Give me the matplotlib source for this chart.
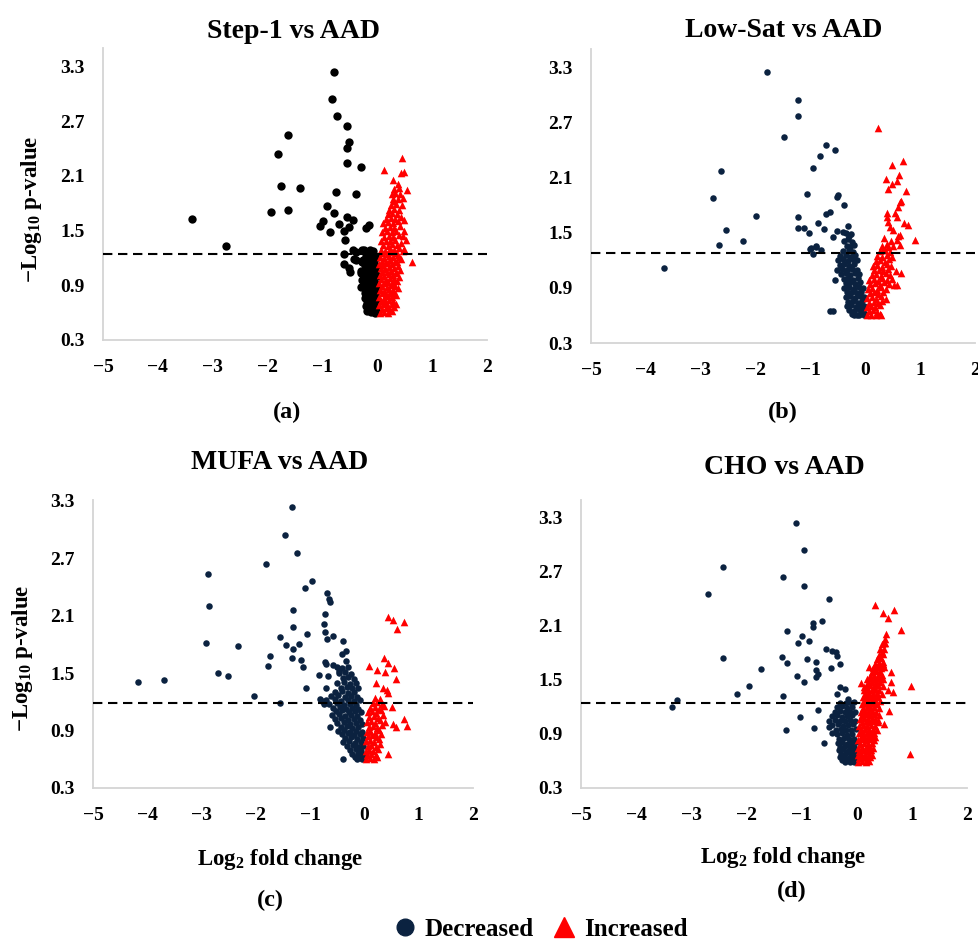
import numpy as np
import matplotlib
matplotlib.use("Agg")
import matplotlib.pyplot as plt
from matplotlib.lines import Line2D

plt.rcParams['font.family'] = ['Liberation Serif', 'DejaVu Serif']
plt.rcParams['font.weight'] = 'bold'
plt.rcParams['mathtext.fontset'] = 'custom'
plt.rcParams['mathtext.rm'] = 'Liberation Serif:bold'
plt.rcParams['mathtext.bf'] = 'Liberation Serif:bold'

NAVY = '#0b2240'
RED = '#ff0000'
BLACK = '#000000'

# ---------------------------------------------------------------- data
# each entry: (log2 fold change, -log10 p-value)
titles = ['Step-1 vs AAD', 'Low-Sat vs AAD', 'MUFA vs AAD', 'CHO vs AAD']
tags = ['(a)', '(b)', '(c)', '(d)']
thresholds = [1.24, 1.28, 1.19, 1.25]
x_ticks = [-5, -4, -3, -2, -1, 0, 1, 2]
x_tick_labels = ['\u22125', '\u22124', '\u22123', '\u22122', '\u22121', '0', '1', '2']
y_ticks = [0.3, 0.9, 1.5, 2.1, 2.7, 3.3]
y_tick_labels = ['0.3', '0.9', '1.5', '2.1', '2.7', '3.3']

step1_dec = [
    (-0.78, 3.24), (-0.83, 2.94), (-0.74, 2.76), (-0.55, 2.64), (-0.52, 2.47), (-0.56, 2.40),
    (-0.55, 2.24), (-0.30, 2.20), (-1.63, 2.55), (-1.81, 2.34), (-1.76, 1.99), (-1.40, 1.97),
    (-1.93, 1.70), (-1.63, 1.72), (-3.37, 1.63), (-2.76, 1.33), (-0.75, 1.92), (-0.39, 1.90),
    (-0.91, 1.77), (-0.78, 1.69), (-0.55, 1.65), (-0.45, 1.62), (-0.99, 1.60), (-1.05, 1.55),
    (-0.69, 1.57), (-0.52, 1.54), (-0.86, 1.48), (-0.61, 1.49), (-0.21, 1.53), (-0.15, 1.56),
    (-0.59, 1.40), (-0.60, 1.24), (-0.60, 1.13), (-0.49, 1.04), (-0.52, 1.09), (-0.45, 1.29),
    (-0.39, 1.26), (-0.38, 1.18), (-0.42, 1.19), (-0.27, 1.29), (-0.30, 1.03), (-0.30, 0.88),
    (-0.27, 1.16),
    (-0.05, 0.60), (-0.12, 0.61), (-0.18, 0.62), (-0.02, 0.63), (-0.09, 0.64), (-0.15, 0.66),
    (-0.21, 0.67), (-0.04, 0.68), (-0.11, 0.70), (-0.19, 0.71), (-0.01, 0.72), (-0.07, 0.74),
    (-0.14, 0.75), (-0.23, 0.76), (-0.03, 0.78), (-0.10, 0.79), (-0.17, 0.80), (-0.22, 0.82),
    (-0.06, 0.83), (-0.13, 0.84), (-0.02, 0.86), (-0.19, 0.87), (-0.09, 0.88), (-0.25, 0.89),
    (-0.15, 0.90), (-0.04, 0.92), (-0.21, 0.93), (-0.11, 0.94), (-0.27, 0.96), (-0.07, 0.97),
    (-0.17, 0.98), (-0.01, 1.00), (-0.24, 1.01), (-0.13, 1.02), (-0.05, 1.04), (-0.20, 1.05),
    (-0.29, 1.06), (-0.09, 1.08), (-0.16, 1.09), (-0.03, 1.11), (-0.23, 1.12), (-0.12, 1.13),
    (-0.19, 1.16), (-0.06, 1.17), (-0.26, 1.18), (-0.14, 1.20), (-0.02, 1.21), (-0.21, 1.22),
    (-0.10, 1.24), (-0.17, 1.26), (-0.07, 1.28), (-0.13, 1.29), (-0.24, 1.29),
]

step1_inc = [
    (0.45, 2.29), (0.13, 2.16), (0.43, 2.13), (0.48, 2.14), (0.28, 2.05), (0.37, 2.01),
    (0.55, 1.94), (0.46, 1.86), (0.31, 1.82), (0.49, 1.61), (0.49, 1.50), (0.52, 1.40),
    (0.49, 1.30), (0.64, 1.16), (0.40, 1.21), (0.37, 1.11), (0.35, 1.03),
    (0.05, 0.60), (0.12, 0.61), (0.20, 0.60), (0.27, 0.62), (0.08, 0.64), (0.16, 0.65),
    (0.23, 0.63), (0.31, 0.66), (0.03, 0.68), (0.11, 0.69), (0.19, 0.67), (0.26, 0.70),
    (0.34, 0.69), (0.06, 0.73), (0.14, 0.72), (0.22, 0.74), (0.29, 0.73), (0.04, 0.77),
    (0.12, 0.76), (0.20, 0.78), (0.27, 0.77), (0.35, 0.79), (0.08, 0.81), (0.16, 0.80),
    (0.24, 0.82), (0.31, 0.81), (0.05, 0.85), (0.13, 0.84), (0.21, 0.86), (0.29, 0.85),
    (0.37, 0.87), (0.09, 0.89), (0.17, 0.88), (0.25, 0.90), (0.33, 0.89), (0.04, 0.93),
    (0.12, 0.92), (0.20, 0.94), (0.28, 0.93), (0.36, 0.95), (0.07, 0.97), (0.15, 0.96),
    (0.23, 0.98), (0.31, 0.97), (0.39, 0.99), (0.05, 1.01), (0.13, 1.00), (0.21, 1.02),
    (0.29, 1.01), (0.09, 1.05), (0.17, 1.04), (0.25, 1.06), (0.34, 1.05), (0.41, 1.07),
    (0.06, 1.09), (0.14, 1.08), (0.22, 1.10), (0.30, 1.09), (0.04, 1.13), (0.11, 1.12),
    (0.19, 1.14), (0.27, 1.13), (0.36, 1.15), (0.08, 1.17), (0.16, 1.16), (0.24, 1.18),
    (0.32, 1.17), (0.43, 1.19), (0.05, 1.21), (0.13, 1.20), (0.21, 1.22), (0.29, 1.21),
    (0.38, 1.23), (0.09, 1.25), (0.18, 1.24), (0.26, 1.26), (0.34, 1.25), (0.47, 1.27),
    (0.06, 1.29), (0.14, 1.28), (0.23, 1.30), (0.31, 1.29), (0.40, 1.31), (0.10, 1.34),
    (0.19, 1.33), (0.27, 1.35), (0.36, 1.34), (0.44, 1.36), (0.07, 1.38), (0.16, 1.39),
    (0.24, 1.38), (0.33, 1.40), (0.12, 1.43), (0.21, 1.44), (0.29, 1.43), (0.39, 1.45),
    (0.46, 1.44), (0.09, 1.48), (0.18, 1.49), (0.27, 1.48), (0.35, 1.50), (0.14, 1.53),
    (0.23, 1.54), (0.31, 1.53), (0.41, 1.55), (0.11, 1.58), (0.20, 1.59), (0.29, 1.58),
    (0.37, 1.60), (0.16, 1.63), (0.25, 1.64), (0.33, 1.63), (0.44, 1.65), (0.19, 1.68),
    (0.27, 1.69), (0.36, 1.68), (0.22, 1.73), (0.30, 1.74), (0.40, 1.73), (0.25, 1.78),
    (0.34, 1.79), (0.45, 1.78), (0.28, 1.84), (0.38, 1.85), (0.26, 1.90), (0.33, 1.91),
    (0.42, 1.90), (0.30, 1.96), (0.39, 1.97),
]

lowsat_dec = [
    (-1.80, 3.25), (-1.22, 2.94), (-1.23, 2.77), (-1.49, 2.54), (-2.63, 2.17), (-2.77, 1.88),
    (-2.00, 1.68), (-2.54, 1.53), (-2.67, 1.37), (-2.23, 1.41), (-3.67, 1.12), (-1.23, 1.67),
    (-1.23, 1.55), (-1.11, 1.55), (-1.07, 1.92), (-0.55, 2.40), (-0.72, 2.46), (-0.83, 2.34),
    (-0.96, 2.20), (-0.52, 1.89), (-0.50, 1.91), (-0.39, 1.80), (-0.64, 1.73), (-0.72, 1.70),
    (-0.86, 1.61), (-0.75, 1.54), (-1.02, 1.50), (-0.58, 1.45), (-0.52, 1.52), (-0.31, 1.57),
    (-0.40, 1.51), (-0.90, 1.36), (-1.01, 1.32), (-0.96, 1.27), (-0.81, 1.31), (-0.89, 1.35),
    (-0.99, 1.33), (-0.56, 0.99), (-0.64, 0.65), (-0.59, 0.65),
    (-0.35, 1.50), (-0.30, 1.47), (-0.26, 1.49), (-0.38, 1.41), (-0.31, 1.43), (-0.24, 1.40),
    (-0.34, 1.36), (-0.27, 1.34), (-0.21, 1.37), (-0.40, 1.30), (-0.30, 1.31), (-0.22, 1.29),
    (-0.46, 1.25), (-0.36, 1.26), (-0.27, 1.24), (-0.19, 1.26), (-0.50, 1.20), (-0.41, 1.21),
    (-0.32, 1.19), (-0.23, 1.21), (-0.16, 1.20), (-0.47, 1.15), (-0.38, 1.16), (-0.29, 1.14),
    (-0.20, 1.16), (-0.51, 1.10), (-0.42, 1.11), (-0.33, 1.09), (-0.25, 1.11), (-0.15, 1.10),
    (-0.44, 1.05), (-0.36, 1.06), (-0.28, 1.04), (-0.19, 1.06), (-0.11, 1.05), (-0.39, 1.00),
    (-0.31, 1.01), (-0.22, 0.99), (-0.13, 1.01), (-0.35, 0.95), (-0.27, 0.96), (-0.18, 0.94),
    (-0.09, 0.96), (-0.38, 0.90), (-0.30, 0.91), (-0.21, 0.89), (-0.12, 0.91), (-0.05, 0.90),
    (-0.33, 0.85), (-0.25, 0.86), (-0.16, 0.84), (-0.07, 0.86), (-0.36, 0.80), (-0.28, 0.81),
    (-0.19, 0.79), (-0.10, 0.81), (-0.03, 0.80), (-0.31, 0.75), (-0.23, 0.76), (-0.14, 0.74),
    (-0.06, 0.76), (-0.34, 0.70), (-0.26, 0.71), (-0.17, 0.69), (-0.08, 0.71), (-0.02, 0.70),
    (-0.29, 0.66), (-0.21, 0.65), (-0.12, 0.67), (-0.04, 0.66), (-0.25, 0.62), (-0.16, 0.61),
    (-0.08, 0.63), (-0.01, 0.62), (-0.20, 0.60), (-0.11, 0.60), (-0.03, 0.60),
]

lowsat_inc = [
    (0.23, 2.64), (0.48, 2.24), (0.68, 2.28), (0.38, 2.09), (0.62, 2.13), (0.58, 2.06),
    (0.42, 1.98), (0.49, 2.03), (0.75, 1.95), (0.63, 1.83), (0.60, 1.78), (0.54, 1.72),
    (0.57, 1.67), (0.39, 1.67), (0.42, 1.62), (0.45, 1.56), (0.51, 1.53), (0.60, 1.47),
    (0.57, 1.42), (0.51, 1.36), (0.39, 1.38), (0.33, 1.31), (0.70, 1.61), (0.78, 1.58),
    (0.91, 1.42), (0.64, 1.37), (0.64, 1.48), (0.38, 0.78), (0.53, 0.93), (0.58, 0.93),
    (0.65, 1.06), (0.56, 1.08), (0.29, 0.60), (0.40, 1.72), (0.65, 1.85),
    (0.04, 0.60), (0.11, 0.61), (0.19, 0.60), (0.26, 0.62), (0.06, 0.65), (0.14, 0.66),
    (0.22, 0.64), (0.03, 0.69), (0.10, 0.70), (0.18, 0.69), (0.27, 0.71), (0.07, 0.74),
    (0.15, 0.75), (0.23, 0.73), (0.31, 0.76), (0.04, 0.79), (0.12, 0.80), (0.20, 0.78),
    (0.28, 0.81), (0.08, 0.84), (0.16, 0.85), (0.24, 0.83), (0.33, 0.86), (0.05, 0.89),
    (0.13, 0.90), (0.21, 0.88), (0.29, 0.91), (0.38, 0.89), (0.09, 0.94), (0.17, 0.95),
    (0.26, 0.93), (0.34, 0.96), (0.43, 0.94), (0.07, 0.99), (0.15, 1.00), (0.23, 0.98),
    (0.31, 1.01), (0.40, 0.99), (0.48, 1.00), (0.12, 1.04), (0.20, 1.05), (0.28, 1.03),
    (0.37, 1.06), (0.45, 1.04), (0.16, 1.09), (0.25, 1.10), (0.33, 1.08), (0.42, 1.11),
    (0.14, 1.14), (0.22, 1.15), (0.30, 1.13), (0.39, 1.16), (0.47, 1.14), (0.19, 1.19),
    (0.27, 1.20), (0.36, 1.18), (0.44, 1.21), (0.22, 1.25), (0.31, 1.24), (0.40, 1.26),
    (0.49, 1.24), (0.27, 1.30), (0.36, 1.31), (0.45, 1.29), (0.31, 1.36), (0.42, 1.35),
    (0.47, 1.41), (0.35, 1.44),
]

mufa_dec = [
    (-1.33, 3.24), (-1.46, 2.94), (-1.25, 2.76), (-1.81, 2.64), (-2.88, 2.54), (-2.87, 2.20),
    (-2.92, 1.82), (-2.32, 1.78), (-2.69, 1.50), (-2.51, 1.47), (-4.18, 1.41), (-3.70, 1.43),
    (-2.03, 1.26), (-1.55, 1.19), (-0.97, 2.46), (-1.09, 2.39), (-0.69, 2.34), (-0.66, 2.28),
    (-0.63, 2.24), (-1.31, 2.16), (-1.31, 1.98), (-1.56, 1.88), (-1.06, 1.91), (-1.45, 1.79),
    (-1.20, 1.80), (-1.32, 1.75), (-1.74, 1.68), (-1.78, 1.58), (-1.34, 1.66), (-1.16, 1.64),
    (-1.13, 1.56), (-1.07, 1.34), (-0.73, 2.12), (-0.74, 2.01), (-0.73, 1.93), (-0.69, 1.86),
    (-0.58, 1.89), (-0.39, 1.84), (-0.41, 1.70), (-0.34, 1.73), (-0.34, 1.63), (-0.73, 1.62),
    (-0.70, 1.60), (-0.58, 1.59), (-0.51, 1.56), (-0.46, 1.52), (-0.84, 1.48), (-0.68, 1.47),
    (-0.71, 1.34), (-0.63, 0.94), (-0.39, 0.60), (-0.78, 1.21), (-0.82, 1.23), (-0.74, 1.18),
    (-0.42, 1.55), (-0.31, 1.56), (-0.46, 1.50), (-0.36, 1.51), (-0.25, 1.49), (-0.40, 1.45),
    (-0.30, 1.46), (-0.20, 1.44), (-0.50, 1.40), (-0.37, 1.41), (-0.27, 1.39), (-0.16, 1.40),
    (-0.44, 1.35), (-0.33, 1.36), (-0.23, 1.34), (-0.12, 1.35), (-0.55, 1.30), (-0.41, 1.31),
    (-0.30, 1.29), (-0.19, 1.30), (-0.62, 1.26), (-0.48, 1.27), (-0.36, 1.25), (-0.25, 1.26),
    (-0.14, 1.25), (-0.70, 1.22), (-0.55, 1.23), (-0.43, 1.21), (-0.31, 1.22), (-0.20, 1.21),
    (-0.09, 1.22), (-0.66, 1.18), (-0.51, 1.19), (-0.38, 1.17), (-0.27, 1.18), (-0.16, 1.17),
    (-0.58, 1.14), (-0.45, 1.15), (-0.34, 1.13), (-0.22, 1.14), (-0.11, 1.13), (-0.53, 1.10),
    (-0.41, 1.11), (-0.29, 1.09), (-0.18, 1.10), (-0.07, 1.09), (-0.60, 1.06), (-0.47, 1.07),
    (-0.35, 1.05), (-0.24, 1.06), (-0.13, 1.05), (-0.55, 1.02), (-0.43, 1.03), (-0.31, 1.01),
    (-0.20, 1.02), (-0.09, 1.01), (-0.50, 0.98), (-0.38, 0.99), (-0.27, 0.97), (-0.16, 0.98),
    (-0.05, 0.97), (-0.44, 0.94), (-0.33, 0.95), (-0.22, 0.93), (-0.11, 0.94), (-0.48, 0.90),
    (-0.37, 0.91), (-0.26, 0.89), (-0.15, 0.90), (-0.04, 0.89), (-0.41, 0.86), (-0.30, 0.87),
    (-0.19, 0.85), (-0.08, 0.86), (-0.36, 0.82), (-0.25, 0.83), (-0.14, 0.81), (-0.03, 0.82),
    (-0.39, 0.78), (-0.28, 0.79), (-0.17, 0.77), (-0.07, 0.78), (-0.32, 0.74), (-0.21, 0.75),
    (-0.11, 0.73), (-0.02, 0.74), (-0.27, 0.70), (-0.16, 0.71), (-0.06, 0.69), (-0.23, 0.66),
    (-0.12, 0.67), (-0.03, 0.65), (-0.18, 0.62), (-0.09, 0.63), (-0.01, 0.61), (-0.13, 0.60),
    (-0.05, 0.60),
]

mufa_inc = [
    (0.44, 2.09), (0.53, 2.06), (0.72, 2.04), (0.60, 1.96), (0.09, 1.58), (0.36, 1.66),
    (0.44, 1.61), (0.24, 1.53), (0.38, 1.51), (0.55, 1.55), (0.58, 1.44), (0.21, 1.40),
    (0.35, 1.35), (0.41, 1.32), (0.44, 1.29), (0.50, 1.15), (0.53, 0.97), (0.72, 1.02),
    (0.78, 0.95), (0.59, 0.94), (0.44, 0.66),
    (0.03, 0.60), (0.10, 0.61), (0.17, 0.60), (0.24, 0.62), (0.05, 0.65), (0.13, 0.66),
    (0.21, 0.64), (0.02, 0.69), (0.09, 0.70), (0.16, 0.69), (0.25, 0.71), (0.06, 0.74),
    (0.13, 0.75), (0.21, 0.73), (0.29, 0.76), (0.03, 0.79), (0.10, 0.80), (0.18, 0.78),
    (0.26, 0.81), (0.07, 0.84), (0.14, 0.85), (0.22, 0.83), (0.31, 0.86), (0.04, 0.89),
    (0.11, 0.90), (0.19, 0.88), (0.27, 0.91), (0.08, 0.94), (0.16, 0.95), (0.24, 0.93),
    (0.33, 0.96), (0.05, 0.99), (0.12, 1.00), (0.20, 0.98), (0.29, 1.01), (0.37, 0.99),
    (0.09, 1.04), (0.17, 1.05), (0.25, 1.03), (0.34, 1.06), (0.06, 1.09), (0.14, 1.10),
    (0.22, 1.08), (0.31, 1.11), (0.11, 1.14), (0.19, 1.15), (0.27, 1.13), (0.36, 1.16),
    (0.15, 1.19), (0.23, 1.20), (0.32, 1.18), (0.20, 1.24), (0.28, 1.23),
]

cho_dec = [
    (-1.11, 3.24), (-0.96, 2.94), (-2.42, 2.76), (-1.34, 2.64), (-0.96, 2.54), (-2.69, 2.46),
    (-0.51, 2.40), (-0.80, 2.13), (-0.79, 2.09), (-0.63, 2.16), (-1.27, 2.04), (-1.00, 1.99),
    (-1.07, 1.91), (-0.87, 1.93), (-0.55, 1.84), (-0.45, 1.82), (-0.38, 1.81), (-0.36, 1.77),
    (-0.30, 1.68), (-2.43, 1.74), (-1.35, 1.76), (-1.26, 1.69), (-0.91, 1.73), (-0.74, 1.70),
    (-0.74, 1.61), (-0.70, 1.57), (-0.73, 1.53), (-0.46, 1.63), (-1.09, 1.55), (-0.95, 1.48),
    (-1.74, 1.62), (-1.96, 1.43), (-2.17, 1.34), (-1.34, 1.32), (-3.26, 1.28), (-3.35, 1.20),
    (-0.30, 1.42), (-0.22, 1.40), (-0.35, 1.35), (-0.15, 1.29), (-0.05, 1.26), (-0.70, 1.17),
    (-1.02, 1.09), (-1.29, 0.94), (-0.77, 0.97), (-0.59, 0.80), (-0.51, 0.98), (-0.45, 0.91),
    (-0.30, 1.25), (-0.20, 1.24), (-0.10, 1.25), (-0.36, 1.20), (-0.27, 1.21), (-0.17, 1.19),
    (-0.08, 1.20), (-0.40, 1.15), (-0.31, 1.16), (-0.22, 1.14), (-0.13, 1.15), (-0.04, 1.14),
    (-0.45, 1.10), (-0.35, 1.11), (-0.26, 1.09), (-0.17, 1.10), (-0.08, 1.11), (-0.50, 1.05),
    (-0.40, 1.06), (-0.30, 1.04), (-0.21, 1.05), (-0.12, 1.06), (-0.03, 1.04), (-0.44, 1.00),
    (-0.34, 1.01), (-0.25, 0.99), (-0.16, 1.00), (-0.07, 1.01), (-0.38, 0.95), (-0.29, 0.96),
    (-0.20, 0.94), (-0.11, 0.95), (-0.02, 0.96), (-0.35, 0.90), (-0.26, 0.91), (-0.17, 0.89),
    (-0.08, 0.90), (-0.32, 0.85), (-0.23, 0.86), (-0.14, 0.84), (-0.05, 0.85), (-0.34, 0.80),
    (-0.26, 0.81), (-0.18, 0.79), (-0.10, 0.80), (-0.02, 0.81), (-0.30, 0.76), (-0.22, 0.77),
    (-0.13, 0.75), (-0.05, 0.76), (-0.33, 0.72), (-0.25, 0.73), (-0.16, 0.71), (-0.08, 0.72),
    (-0.01, 0.71), (-0.29, 0.68), (-0.20, 0.69), (-0.11, 0.67), (-0.04, 0.68), (-0.31, 0.64),
    (-0.23, 0.65), (-0.14, 0.63), (-0.06, 0.64), (-0.27, 0.61), (-0.18, 0.62), (-0.09, 0.60),
    (-0.02, 0.61), (-0.22, 0.59), (-0.13, 0.59), (-0.05, 0.59),
]

cho_inc = [
    (0.33, 2.33), (0.68, 2.28), (0.47, 2.24), (0.57, 2.19), (0.80, 2.06), (0.53, 2.01),
    (0.51, 1.96), (0.50, 1.91), (0.45, 1.81), (0.42, 1.76), (0.48, 1.70), (0.39, 1.67),
    (0.23, 1.65), (0.33, 1.62), (0.50, 1.65), (0.62, 1.59), (0.98, 1.43), (0.63, 1.48),
    (0.65, 1.37), (0.57, 1.39), (0.07, 1.47), (0.13, 1.42), (0.59, 1.16), (0.50, 1.01),
    (0.97, 0.68), (0.39, 1.06),
    (0.02, 0.59), (0.09, 0.60), (0.16, 0.59), (0.23, 0.60), (0.04, 0.63), (0.11, 0.64),
    (0.18, 0.63), (0.25, 0.64), (0.02, 0.67), (0.08, 0.68), (0.15, 0.67), (0.22, 0.68),
    (0.28, 0.67), (0.05, 0.71), (0.12, 0.72), (0.19, 0.71), (0.26, 0.72), (0.03, 0.75),
    (0.09, 0.76), (0.16, 0.75), (0.23, 0.76), (0.30, 0.75), (0.06, 0.79), (0.13, 0.80),
    (0.20, 0.79), (0.27, 0.80), (0.03, 0.83), (0.10, 0.84), (0.17, 0.83), (0.24, 0.84),
    (0.31, 0.83), (0.07, 0.87), (0.14, 0.88), (0.21, 0.87), (0.28, 0.88), (0.34, 0.87),
    (0.04, 0.91), (0.11, 0.92), (0.18, 0.91), (0.25, 0.92), (0.32, 0.91), (0.08, 0.95),
    (0.15, 0.96), (0.22, 0.95), (0.29, 0.96), (0.36, 0.95), (0.05, 0.99), (0.12, 1.00),
    (0.19, 0.99), (0.26, 1.00), (0.33, 0.99), (0.09, 1.03), (0.16, 1.04), (0.23, 1.03),
    (0.30, 1.04), (0.38, 1.03), (0.06, 1.07), (0.13, 1.08), (0.20, 1.07), (0.27, 1.08),
    (0.34, 1.07), (0.10, 1.11), (0.17, 1.12), (0.24, 1.11), (0.31, 1.12), (0.40, 1.11),
    (0.07, 1.15), (0.14, 1.16), (0.21, 1.15), (0.28, 1.16), (0.35, 1.15), (0.11, 1.19),
    (0.18, 1.20), (0.25, 1.19), (0.32, 1.20), (0.41, 1.19), (0.09, 1.23), (0.16, 1.24),
    (0.23, 1.23), (0.30, 1.24), (0.37, 1.23), (0.13, 1.27), (0.20, 1.28), (0.27, 1.27),
    (0.34, 1.28), (0.43, 1.27), (0.11, 1.31), (0.18, 1.32), (0.25, 1.31), (0.32, 1.32),
    (0.39, 1.31), (0.15, 1.35), (0.22, 1.36), (0.29, 1.35), (0.36, 1.36), (0.45, 1.35),
    (0.13, 1.39), (0.20, 1.40), (0.27, 1.39), (0.34, 1.40), (0.41, 1.39), (0.17, 1.43),
    (0.24, 1.44), (0.31, 1.43), (0.38, 1.44), (0.47, 1.43), (0.21, 1.47), (0.28, 1.48),
    (0.35, 1.47), (0.42, 1.48), (0.19, 1.51), (0.26, 1.52), (0.33, 1.51), (0.40, 1.52),
    (0.48, 1.51), (0.24, 1.55), (0.31, 1.56), (0.38, 1.55), (0.45, 1.56), (0.28, 1.59),
    (0.35, 1.60), (0.42, 1.59), (0.30, 1.63), (0.37, 1.64), (0.44, 1.63), (0.34, 1.68),
    (0.41, 1.69), (0.47, 1.68), (0.37, 1.73), (0.44, 1.74), (0.40, 1.78), (0.47, 1.79),
    (0.43, 1.84), (0.49, 1.85), (0.46, 1.90), (0.52, 1.91),
]

# ---------------------------------------------------------------- layout
W, H = 979, 940
fig = plt.figure(figsize=(W / 100, H / 100), dpi=100)

# panel boxes in pixels: left, right, top, bottom, y-limit top
panels = [
    dict(box=(103, 487, 48, 340), ytop=3.5, dec=step1_dec, inc=step1_inc, dec_color=BLACK,
         s_dec=36, s_inc=30, title_xy=(294, 38), tag_xy=(287, 412), ylabel_xy=(32, 209), xlabel_xy=None),
    dict(box=(591, 975, 49, 343), ytop=3.5, dec=lowsat_dec, inc=lowsat_inc, dec_color=NAVY,
         s_dec=22, s_inc=30, title_xy=(784, 37), tag_xy=(783, 412), ylabel_xy=None, xlabel_xy=None),
    dict(box=(93, 473, 500, 788), ytop=3.31, dec=mufa_dec, inc=mufa_inc, dec_color=NAVY,
         s_dec=22, s_inc=30, title_xy=(280, 469), tag_xy=(270, 900), ylabel_xy=(23, 658), xlabel_xy=(280, 865)),
    dict(box=(581, 967, 500, 788), ytop=3.5, dec=cho_dec, inc=cho_inc, dec_color=NAVY,
         s_dec=21, s_inc=30, title_xy=(784, 474), tag_xy=(792, 891), ylabel_xy=None, xlabel_xy=(783, 863)),
]


def fx(px):
    return px / W


def fy(py):
    return 1 - py / H


for i, p in enumerate(panels):
    l, r, t, b = p['box']
    ax = fig.add_axes([fx(l), fy(b), (r - l) / W, (b - t) / H])
    dec = np.array(p['dec'])
    inc = np.array(p['inc'])
    ax.scatter(dec[:, 0], dec[:, 1], s=p['s_dec'], c=p['dec_color'], marker='o',
               linewidths=0, zorder=3)
    ax.scatter(inc[:, 0], inc[:, 1], s=p['s_inc'], c=RED, marker='^',
               linewidths=0, zorder=3)
    ax.axhline(thresholds[i], color='black', lw=1.5, ls=(0, (4.5, 2.7)), zorder=4)

    ax.set_xlim(-5, 2)
    ax.set_ylim(0.3, p['ytop'])
    ax.set_xticks(x_ticks)
    ax.set_xticklabels(x_tick_labels)
    ax.set_yticks(y_ticks)
    ax.set_yticklabels(y_tick_labels)
    ax.tick_params(length=0, labelsize=14)
    ax.tick_params(axis='y', pad=13)
    ax.tick_params(axis='x', pad=14)
    for lab in ax.get_xticklabels() + ax.get_yticklabels():
        lab.set_fontweight('bold')
    for side in ('top', 'right'):
        ax.spines[side].set_visible(False)
    for side in ('left', 'bottom'):
        ax.spines[side].set_color('#d4d4d4')
        ax.spines[side].set_linewidth(1.3)
    ax.set_facecolor('none')

    fig.text(fx(p['title_xy'][0]), fy(p['title_xy'][1]), titles[i], ha='center',
             va='baseline', fontsize=20, fontweight='bold')
    fig.text(fx(p['tag_xy'][0]), fy(p['tag_xy'][1]), tags[i], ha='center',
             va='center', fontsize=17.5, fontweight='bold')
    if p['ylabel_xy'] is not None:
        fig.text(fx(p['ylabel_xy'][0]), fy(p['ylabel_xy'][1]),
                 '\u2212' + r'$\mathrm{Log_{10}}$' + ' p-value', rotation=90,
                 ha='center', va='center', fontsize=16.5, fontweight='bold')
    if p['xlabel_xy'] is not None:
        fig.text(fx(p['xlabel_xy'][0]), fy(p['xlabel_xy'][1]),
                 r'$\mathrm{Log_{2}}$' + ' fold change', ha='center',
                 va='baseline', fontsize=16.5, fontweight='bold')

handles = [
    Line2D([], [], marker='o', ls='', color=NAVY, markersize=12),
    Line2D([], [], marker='^', ls='', color=RED, markersize=15),
]
fig.legend(handles, ['Decreased', 'Increased'], loc='center',
           bbox_to_anchor=(fx(540), fy(929)), ncol=2, frameon=False,
           prop={'size': 18, 'weight': 'bold'}, handletextpad=0.3,
           columnspacing=0.7, handlelength=1.0, borderpad=0, borderaxespad=0)

fig.savefig('out.png', dpi=100)
